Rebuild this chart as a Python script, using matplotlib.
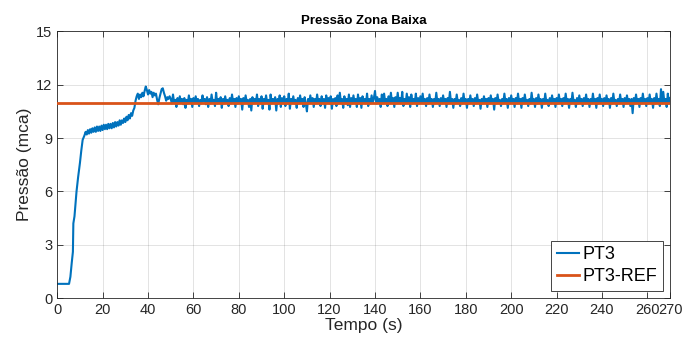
import numpy as np
import matplotlib
matplotlib.use('Agg')
import matplotlib.pyplot as plt

plt.rcParams['font.family'] = ['Liberation Sans', 'DejaVu Sans']

# PT3 start-up transient (time in s, pressure in mca)
t_start = [0, 5.2, 5.8, 6.4, 6.9, 7.1, 7.6, 8.5, 9.2, 10.0, 10.6, 11.2,
           12.0, 12.5, 13.0, 13.5, 14.0, 14.5, 15.0, 15.5, 16.0, 16.5, 17.0,
           17.5, 18.0, 18.5, 19.0, 19.5, 20.0, 20.5, 21.0, 21.5, 22.0, 22.5,
           23.0, 23.5, 24.0, 24.5, 25.0, 25.5, 26.0, 26.5, 27.0, 27.5, 28.0,
           28.5, 29.0, 29.5, 30.0, 30.5, 31.0, 31.5, 32.0, 32.5, 33.0, 33.5,
           34.0, 34.5, 35.0, 35.5, 36.0, 36.5, 37.0, 37.5, 38.0, 38.5, 39.0,
           39.5, 40.0, 40.5, 41.0, 41.5, 42.0, 42.5, 43.0, 43.5, 44.0, 44.5,
           45.0, 45.5, 46.0, 46.5, 47.0, 47.5, 48.0, 48.5, 49.0, 49.5]
p_start = [0.8, 0.8, 1.2, 2.0, 2.6, 4.2, 4.6, 6.0, 6.8, 7.6, 8.3, 8.9,
           9.15, 9.35, 9.2, 9.45, 9.25, 9.5, 9.3, 9.55, 9.35, 9.6, 9.35,
           9.65, 9.4, 9.65, 9.4, 9.7, 9.45, 9.75, 9.5, 9.75, 9.5, 9.8,
           9.55, 9.8, 9.55, 9.85, 9.6, 9.9, 9.65, 9.9, 9.7, 10.0, 9.75,
           10.0, 9.85, 10.1, 9.9, 10.2, 10.0, 10.3, 10.1, 10.4, 10.25, 10.55,
           10.7, 11.1, 11.35, 11.5, 11.2, 11.45, 11.3, 11.55, 11.35, 11.65, 11.9,
           11.7, 11.45, 11.7, 11.5, 11.6, 11.3, 11.55, 11.4, 11.5, 11.15, 10.9,
           11.25, 11.5, 11.75, 11.8, 11.55, 11.35, 11.1, 11.3, 11.2, 11.35]

# PT3 steady part, every 0.5 s: 50 s .. 160 s
p_steady_a = [
    11.2, 10.95, 11.45, 11.0, 11.15, 10.75, 11.25, 10.95, 11.35, 11.0, 11.2, 10.9, 11.25, 10.7, 11.15, 10.95, 11.4, 11.0, 11.2, 10.75,
    11.25, 10.95, 11.35, 11.0, 11.2, 10.8, 11.15, 10.95, 11.4, 11.05, 11.2, 10.9, 11.3, 10.75, 11.2, 10.95, 11.45, 11.0, 11.15, 10.8,
    11.55, 10.95, 11.2, 11.0, 11.3, 10.7, 11.2, 10.95, 11.35, 11.0, 11.15, 10.8, 11.25, 10.95, 11.45, 11.0, 11.2, 10.75, 11.25, 10.95,
    11.35, 11.0, 11.2, 10.6, 11.25, 10.95, 11.4, 11.0, 11.15, 10.75, 11.2, 10.55, 11.3, 10.95, 11.2, 11.0, 11.45, 10.8, 11.2, 10.95,
    11.35, 10.65, 11.2, 10.95, 11.4, 11.0, 11.15, 10.6, 11.45, 10.95, 11.2, 11.0, 11.3, 10.55, 11.2, 10.95, 11.4, 10.75, 11.25, 10.95,
    11.35, 10.8, 11.2, 10.95, 11.5, 10.65, 11.2, 11.0, 11.35, 10.95, 11.15, 10.7, 11.25, 10.95, 11.4, 11.0, 11.2, 10.75, 11.3, 10.95,
    10.5, 11.2, 10.95, 11.4, 11.0, 11.25, 10.75, 11.2, 10.95, 11.45, 11.0, 11.2, 10.8, 11.35, 10.95, 11.2, 10.7, 11.4, 11.0, 11.25,
    10.95, 11.35, 10.65, 11.2, 11.0, 11.25, 10.8, 11.4, 10.95, 11.55, 11.0, 11.2, 10.7, 11.35, 10.95, 11.2, 10.85, 11.45, 10.75, 11.25,
    10.95, 11.4, 11.0, 11.2, 10.75, 11.45, 10.95, 11.25, 10.7, 11.35, 11.0, 11.2, 10.95, 11.5, 10.8, 11.2, 10.95, 11.4, 11.0, 11.25,
    11.65, 10.95, 11.3, 11.0, 11.2, 10.75, 11.45, 10.95, 11.5, 11.0, 11.2, 10.8, 11.35, 10.95, 11.55, 11.0, 11.25, 10.75, 11.3, 10.95,
    11.55, 11.0, 11.25, 10.95, 11.6, 10.8, 11.2, 10.95, 11.5, 11.0, 11.3, 10.75, 11.45, 10.95, 11.2, 11.0, 11.5, 10.8, 11.25, 10.95,
    11.35]

# PT3 steady part, every 0.5 s: 160.5 s .. 270 s
p_steady_b = [
    11.0, 11.5, 10.95, 11.2, 10.8, 11.25, 10.95, 11.45, 11.0, 11.2, 10.75, 11.2, 10.95, 11.55, 11.0, 11.2, 10.8, 11.25, 10.95, 11.4,
    11.0, 11.2, 10.75, 11.25, 10.95, 11.6, 11.0, 11.2, 10.7, 11.2, 10.95, 11.45, 11.0, 11.15, 10.8, 11.25, 10.95, 11.5, 11.0, 11.2,
    10.7, 11.2, 10.95, 11.4, 11.0, 11.2, 10.8, 11.25, 10.95, 11.45, 11.0, 11.15, 10.65, 11.2, 10.95, 11.35, 11.0, 11.2, 10.75, 11.25,
    10.95, 11.4, 11.0, 11.2, 10.6, 11.25, 10.95, 11.45, 11.0, 11.15, 10.8, 11.2, 10.95, 11.5, 11.0, 11.2, 10.7, 11.25, 10.95, 11.4,
    11.0, 11.2, 10.75, 11.25, 10.95, 11.5, 11.0, 11.2, 10.7, 11.25, 10.95, 11.45, 11.0, 11.15, 10.8, 11.2, 10.95, 11.55, 11.0, 11.2,
    10.75, 11.25, 10.95, 11.45, 11.0, 11.2, 10.7, 11.2, 10.95, 11.5, 11.0, 11.15, 10.8, 11.25, 10.95, 11.4, 11.0, 11.2, 10.75, 11.25,
    10.95, 11.45, 11.0, 11.2, 10.8, 11.25, 10.95, 11.5, 11.0, 11.2, 10.7, 11.2, 10.95, 11.55, 11.0, 11.15, 10.75, 11.25, 10.95, 11.4,
    11.0, 11.2, 10.8, 11.25, 10.95, 11.45, 11.0, 11.2, 10.75, 11.2, 10.95, 11.5, 11.0, 11.2, 10.7, 11.25, 10.95, 11.45, 11.0, 11.2,
    10.8, 11.25, 10.95, 11.4, 11.0, 11.2, 10.7, 11.25, 10.95, 11.5, 11.0, 11.15, 10.8, 11.2, 10.95, 11.45, 11.0, 11.2, 10.75, 11.25,
    10.95, 11.4, 11.0, 11.2, 10.8, 11.2, 10.4, 11.25, 10.95, 11.45, 11.0, 11.2, 10.75, 11.25, 10.95, 11.5, 11.0, 11.2, 10.8, 11.25,
    10.95, 11.45, 11.0, 11.2, 10.7, 11.25, 10.95, 11.5, 11.0, 11.2, 10.8, 11.75, 10.95, 11.6, 11.0, 11.2, 10.75, 11.5, 10.95, 11.25]

ref_value = 11.0
x_ticks = [0, 20, 40, 60, 80, 100, 120, 140, 160, 180, 200, 220, 240, 260, 270]
y_ticks = [0, 3, 6, 9, 12, 15]

t_steady = 50 + 0.5 * np.arange(len(p_steady_a) + len(p_steady_b))
t_pt3 = np.concatenate([t_start, t_steady])
p_pt3 = np.concatenate([p_start, p_steady_a, p_steady_b])

fig = plt.figure(figsize=(6.98, 3.45), dpi=100)
ax = fig.add_axes([0.082, 0.136, 0.878, 0.773])

ax.plot(t_pt3, p_pt3, color='#0072BD', lw=1.5, label='PT3', zorder=2)
ax.axhline(ref_value, xmin=0, xmax=1, color='#D95319', lw=2.0,
           label='PT3-REF', zorder=4)

ax.set_xlim(0, 270)
ax.set_ylim(0, 15)
ax.set_xticks(x_ticks)
ax.set_yticks(y_ticks)
ax.tick_params(direction='in', top=True, right=True, labelsize=10.5, colors='#262626',
               length=4, width=0.6)
for s in ax.spines.values():
    s.set_color('#262626')
    s.set_linewidth(0.6)
ax.grid(True, color='#262626', alpha=0.15, lw=0.6)
ax.set_axisbelow(True)

ax.set_title('Pressão Zona Baixa', fontsize=9.5, fontweight='bold', color='black', pad=5)
ax.set_xlabel('Tempo (s)', fontsize=12.5, color='#262626', labelpad=1)
ax.set_ylabel('Pressão (mca)', fontsize=12.5, color='#262626', labelpad=3)

leg = ax.legend(loc='lower right', fontsize=13, fancybox=False, framealpha=1,
                edgecolor='#262626', handlelength=1.25, handletextpad=0.2,
                borderpad=0.3, labelspacing=0.3, borderaxespad=0.4)
leg.get_frame().set_linewidth(0.6)
leg.set_zorder(5)

fig.savefig('out.png', dpi=100)
